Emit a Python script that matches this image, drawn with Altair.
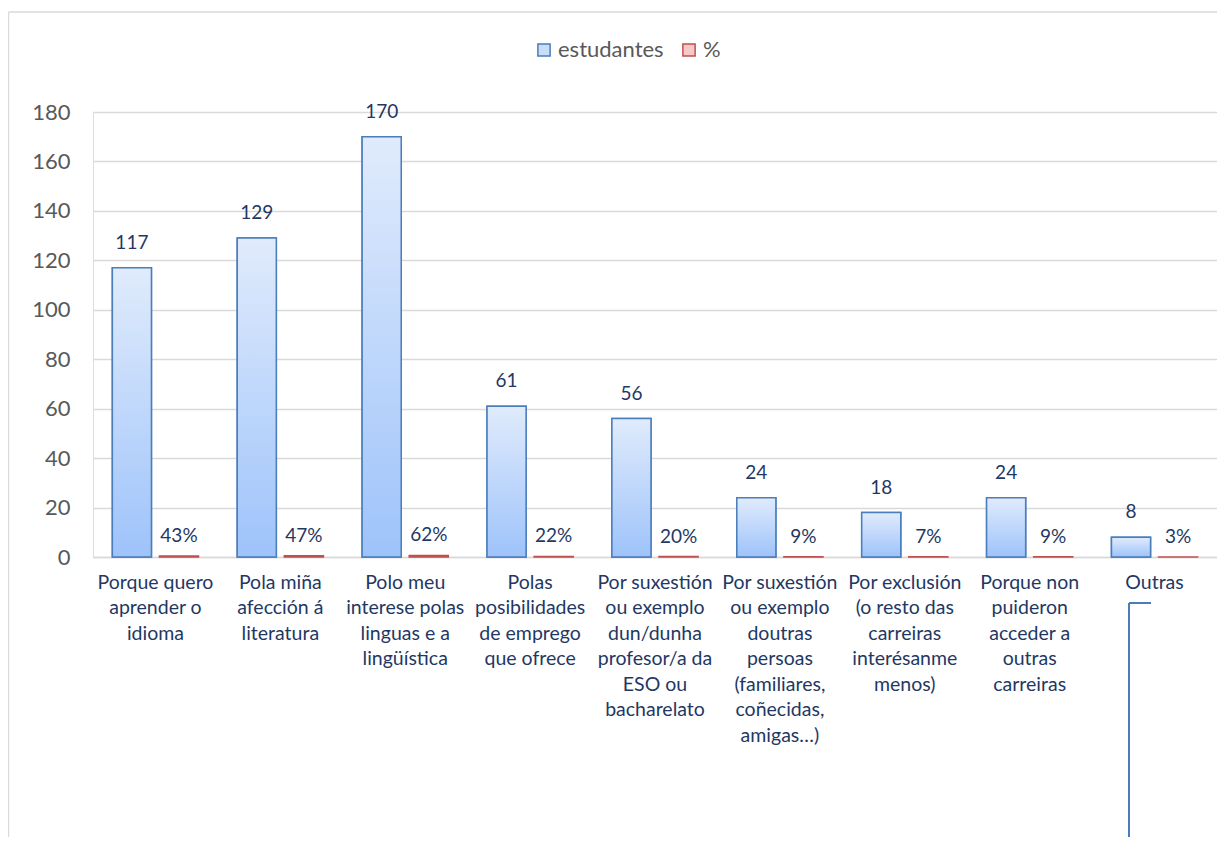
import altair as alt
import pandas as pd

categories = [
    "Porque quero|aprender o|idioma",
    "Pola miña|afección á|literatura",
    "Polo meu|interese polas|linguas e a|lingüística",
    "Polas|posibilidades|de emprego|que ofrece",
    "Por suxestión|ou exemplo|dun/dunha|profesor/a da|ESO ou|bacharelato",
    "Por  suxestión|ou  exemplo|doutras|persoas|(familiares,|coñecidas,|amigas…)",
    "Por exclusión|(o resto das|carreiras|interésanme|menos)",
    "Porque non|puideron|acceder a|outras|carreiras",
    "Outras",
]
estudantes = [117, 129, 170, 61, 56, 24, 18, 24, 8]
percent = [43, 47, 62, 22, 20, 9, 7, 9, 3]
series = ["estudantes", "%"]

rows = []
for c, e, p in zip(categories, estudantes, percent):
    rows.append({"cat": c, "series": "estudantes", "value": e, "label": str(e)})
    rows.append({"cat": c, "series": "%", "value": p / 100.0, "label": f"{p}%"})
df = pd.DataFrame(rows)

FONT = "Lato"
NAVY = "#1f3864"
GRID = "#d9d9d9"

x_enc = alt.X(
    "cat:N",
    sort=categories,
    title=None,
    scale=alt.Scale(paddingInner=0.31, paddingOuter=0.155),
    axis=alt.Axis(
        labelExpr="split(datum.label, '|')",
        labelAngle=0,
        labelColor=NAVY,
        labelFontSize=19.5,
        labelFont=FONT,
        labelLineHeight=25.5,
        labelPadding=16,
        labelLimit=300,
        ticks=False,
        domainColor=GRID,
        domainWidth=1.3,
        grid=False,
    ),
)
xoff = alt.XOffset(
    "series:N",
    sort=series,
    scale=alt.Scale(domain=series, paddingInner=0.17, paddingOuter=0),
)
y_enc = alt.Y(
    "value:Q",
    title=None,
    scale=alt.Scale(domain=[0, 180], nice=False),
    axis=alt.Axis(
        values=list(range(0, 181, 20)),
        labelColor="#595959",
        labelFontSize=22,
        labelFont=FONT,
        labelPadding=23,
        ticks=False,
        domain=False,
        gridColor=GRID,
        gridWidth=1.3,
    ),
)

legend_kw = dict(
    title=None,
    orient="none",
    direction="horizontal",
    legendX=440,
    legendY=-73,
    symbolType="square",
    symbolSize=150,
    symbolStrokeWidth=1.5,
    labelFontSize=22,
    labelFont=FONT,
    labelColor="#595959",
    columnPadding=14,
    labelOffset=3,
)

base = alt.Chart(df)

bars = base.mark_bar(strokeWidth=1.5).encode(
    x=x_enc,
    xOffset=xoff,
    y=y_enc,
    fill=alt.Fill(
        "series:N",
        sort=series,
        scale=alt.Scale(domain=series, range=["#c9dcf8", "#f6c9c8"]),
        legend=alt.Legend(**legend_kw),
    ),
    stroke=alt.Stroke(
        "series:N",
        sort=series,
        scale=alt.Scale(domain=series, range=["#4a7ebb", "#c0504d"]),
        legend=alt.Legend(**legend_kw),
    ),
)

grad = {
    "gradient": "linear",
    "x1": 0, "x2": 0, "y1": 0, "y2": 1,
    "stops": [
        {"offset": 0, "color": "#e0ebfc"},
        {"offset": 1, "color": "#9ec3fa"},
    ],
}
blue_grad = base.transform_filter(alt.datum.series == "estudantes").mark_bar(
    fill=grad, stroke="#4a7ebb", strokeWidth=1.5
).encode(x=x_enc, xOffset=xoff, y=y_enc)

lab_blue = base.transform_filter(alt.datum.series == "estudantes").mark_text(
    baseline="alphabetic", dy=-19, fontSize=19, font=FONT, color=NAVY
).encode(x=x_enc, xOffset=xoff, y=y_enc, text="label:N")

lab_red = base.transform_filter(alt.datum.series == "%").mark_text(
    baseline="alphabetic", dy=-14, fontSize=19, font=FONT, color=NAVY
).encode(x=x_enc, xOffset=xoff, y=y_enc, text="label:N")

one = alt.Chart(pd.DataFrame({"a": [0]}))
frame_top = one.mark_rule(color=GRID, strokeWidth=1.3).encode(
    x=alt.value(-84.5), x2=alt.value(1200), y=alt.value(-100)
)
frame_left = one.mark_rule(color=GRID, strokeWidth=1.3).encode(
    x=alt.value(-84.5), y=alt.value(-100), y2=alt.value(800)
)
bracket_v = one.mark_rule(color="#4a7ebb", strokeWidth=2).encode(
    x=alt.value(1036), y=alt.value(491), y2=alt.value(800)
)
bracket_h = one.mark_rule(color="#4a7ebb", strokeWidth=2).encode(
    x=alt.value(1036), x2=alt.value(1058), y=alt.value(491)
)

chart = alt.layer(
    frame_top, frame_left, bars, blue_grad, lab_blue, lab_red, bracket_v, bracket_h
).properties(
    width=1124,
    height=445,
    autosize=alt.AutoSizeParams(type="none"),
    padding={"left": 85, "top": 104, "right": 0, "bottom": 280},
).configure_view(stroke=None).configure(font=FONT)

chart.save("out.html", embed_options={"renderer": "svg", "actions": False})
